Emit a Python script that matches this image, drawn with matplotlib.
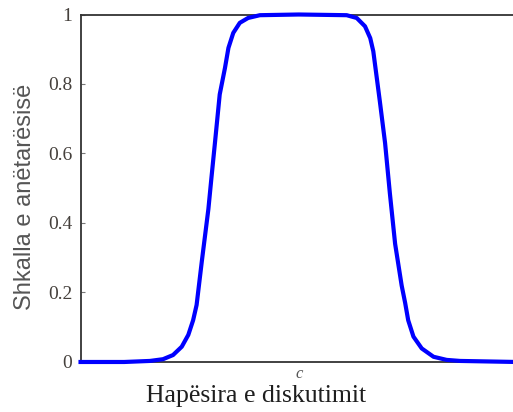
import matplotlib.pyplot as plt

# Points (x in 0..10, centre c at 5)
x_vals = [0.0, 1.0, 1.59, 1.89, 2.12, 2.32, 2.47, 2.58, 2.66, 2.78, 2.93, 3.00, 3.08, 3.19, 3.31, 3.39, 3.50,
          3.65, 3.84, 4.11, 5.0, 6.10, 6.33, 6.52, 6.64, 6.71, 6.76, 6.86, 6.98, 7.09, 7.21, 7.36, 7.44, 7.51,
          7.63, 7.82, 8.09, 8.39, 8.70, 10.0]
mu_vals = [0.0, 0.0, 0.003, 0.008, 0.02, 0.044, 0.078, 0.12, 0.164, 0.29, 0.44, 0.53, 0.63, 0.77, 0.846, 0.904,
           0.947, 0.976, 0.99, 0.998, 1.0, 0.998, 0.99, 0.966, 0.932, 0.894, 0.846, 0.75, 0.63, 0.485, 0.34,
           0.22, 0.17, 0.12, 0.073, 0.039, 0.015, 0.006, 0.003, 0.0]

y_ticks = [0, 0.2, 0.4, 0.6, 0.8, 1]
y_tick_labels = ['0', '0.2', '0.4', '0.6', '0.8', '1']
x_ticks = [5]
x_tick_labels = ['c']

fig = plt.figure(figsize=(5.13, 4.12), dpi=100)
# right edge of the axes runs past the picture
ax = fig.add_axes([0.157, 0.1214, 0.8505, 0.8434])

ax.plot(x_vals, mu_vals, color='#0000ff', linewidth=3.0, clip_on=False, zorder=5,
        solid_joinstyle='round')

ax.set_xlim(0, 10)
ax.set_ylim(0, 1)

ax.set_yticks(y_ticks)
ax.set_yticklabels(y_tick_labels, fontfamily='Liberation Serif', fontsize=14, color='#45403c')
ax.set_xticks(x_ticks)
ax.set_xticklabels(x_tick_labels, fontfamily='Liberation Serif', fontsize=12, style='italic', color='#555555')
ax.tick_params(axis='y', direction='in', length=3, width=0.8, color='#777777', pad=6)
ax.tick_params(axis='x', length=0, pad=3)

for s in ax.spines.values():
    s.set_color('#333333')
    s.set_linewidth(1.3)

ax.set_xlabel('Hapësira e diskutimit', fontfamily='Liberation Serif', fontsize=18.5, color='#1e1e1e')
ax.xaxis.set_label_coords(0.402, -0.066)
ax.set_ylabel('Shkalla e anëtarësisë', fontfamily='Liberation Sans', fontsize=17, color='#555555')
ax.yaxis.set_label_coords(-0.102, 0.475)

fig.savefig('out.png', dpi=100)
